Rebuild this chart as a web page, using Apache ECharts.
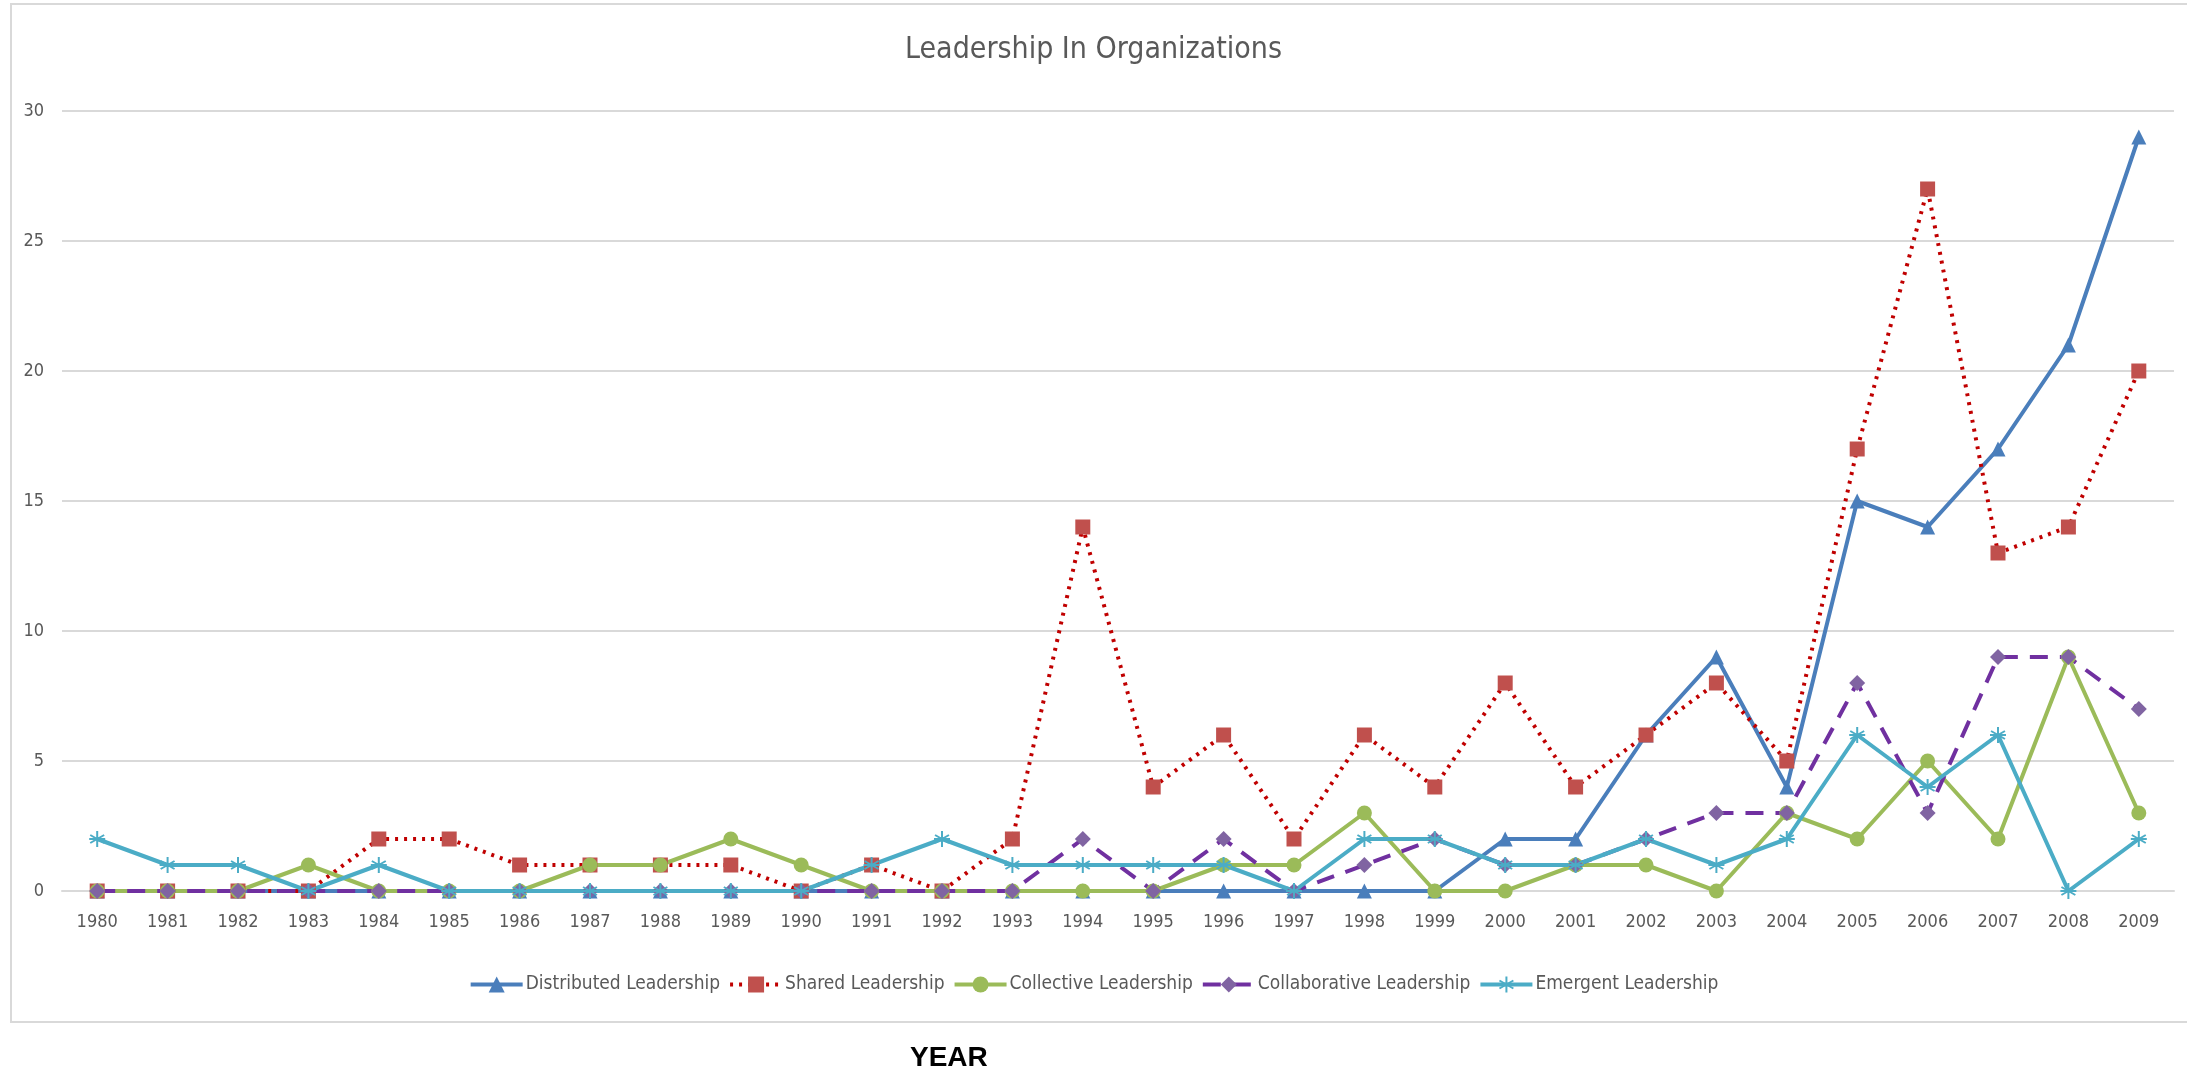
<!DOCTYPE html>
<html><head><meta charset="utf-8">
<script src="https://cdn.jsdelivr.net/npm/echarts@6/dist/echarts.min.js"></script>
<style>html,body{margin:0;padding:0;background:#fff}#c{width:2187px;height:1075px}</style>
</head><body><div id="c"></div>
<script>
const years = ['1980','1981','1982','1983','1984','1985','1986','1987','1988','1989','1990','1991','1992','1993','1994','1995','1996','1997','1998','1999','2000','2001','2002','2003','2004','2005','2006','2007','2008','2009'];
const distributed   = [0,0,0,0,0,0,0,0,0,0,0,0,0,0,0,0,0,0,0,0,2,2,6,9,4,15,14,17,21,29];
const shared        = [0,0,0,0,2,2,1,1,1,1,0,1,0,2,14,4,6,2,6,4,8,4,6,8,5,17,27,13,14,20];
const collective    = [0,0,0,1,0,0,0,1,1,2,1,0,0,0,0,0,1,1,3,0,0,1,1,0,3,2,5,2,9,3];
const collaborative = [0,0,0,0,0,0,0,0,0,0,0,0,0,0,2,0,2,0,1,2,1,1,2,3,3,8,3,9,9,7];
const emergent      = [2,1,1,0,1,0,0,0,0,0,0,1,2,1,1,1,1,0,2,2,1,1,2,1,2,6,4,6,0,2];
const yTicks = [0,5,10,15,20,25,30];

const FONT = '"Liberation Sans Narrow","DejaVu Sans Condensed",sans-serif';
const star = 'path://M0,-10L0,10M-8.7,-5L8.7,5M-8.7,5L8.7,-5M-10,0L10,0';

const chart = echarts.init(document.getElementById('c'));
chart.setOption({
  animation:false,
  backgroundColor:'#fff',
  title:{text:'Leadership In Organizations',left:'center',top:30,
    textStyle:{fontFamily:FONT,fontSize:30,fontWeight:'normal',color:'#595959'}},
  grid:{left:62,right:13,top:111,bottom:184,containLabel:false},
  legend:{bottom:76,left:'center',itemWidth:52,itemHeight:20,itemGap:8,
    lineStyle:{width:4},
    textStyle:{fontFamily:FONT,fontSize:19,color:'#595959',padding:[0,0,0,-2]}},
  xAxis:{type:'category',data:years,boundaryGap:true,
    axisLine:{lineStyle:{color:'#d9d9d9',width:2}},axisTick:{show:false},
    axisLabel:{fontFamily:FONT,fontSize:18,color:'#595959',margin:22}},
  yAxis:{type:'value',min:0,max:30,interval:5,
    axisLine:{show:false},axisTick:{show:false},
    splitLine:{lineStyle:{color:'#d9d9d9',width:2}},
    axisLabel:{fontFamily:FONT,fontSize:18,color:'#595959',margin:18,
      formatter:v=>yTicks.includes(v)?String(v):''}},
  graphic:[
    {type:'rect',shape:{x:11,y:4,width:2200,height:1018},style:{fill:'none',stroke:'#d9d9d9',lineWidth:2},z:-1},
    {type:'text',left:910,top:1044,style:{text:'YEAR',font:'bold 28px "Liberation Sans",sans-serif',fill:'#000'}}
  ],
  series:[
    {name:'Distributed Leadership',type:'line',data:distributed,symbol:'triangle',symbolSize:15,
      lineStyle:{color:'#4a7ebb',width:4},itemStyle:{color:'#4a7ebb'}},
    {name:'Shared Leadership',type:'line',data:shared,symbol:'rect',symbolSize:15,
      lineStyle:{color:'#c00000',width:4,type:[3,6]},itemStyle:{color:'#c0504d'}},
    {name:'Collective Leadership',type:'line',data:collective,symbol:'circle',symbolSize:15,
      lineStyle:{color:'#9bbb59',width:4},itemStyle:{color:'#9bbb59'}},
    {name:'Collaborative Leadership',type:'line',data:collaborative,symbol:'diamond',symbolSize:16,
      lineStyle:{color:'#7030a0',width:4,type:[18,12]},itemStyle:{color:'#8064a2'}},
    {name:'Emergent Leadership',type:'line',data:emergent,symbol:star,symbolSize:16,
      lineStyle:{color:'#4bacc6',width:4},itemStyle:{color:'#4bacc6',borderColor:'#4bacc6',borderWidth:2}}
  ]
});
</script></body></html>
